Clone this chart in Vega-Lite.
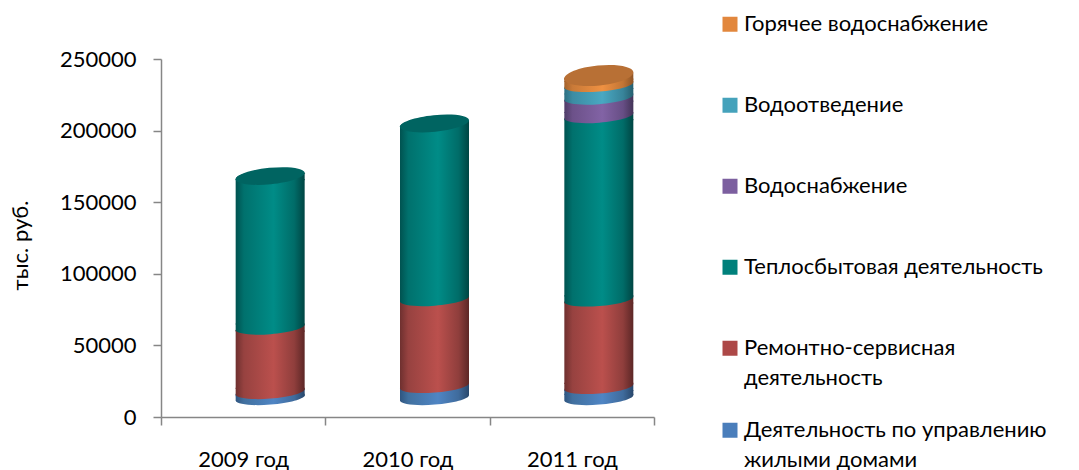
{
"$schema":"https://vega.github.io/schema/vega-lite/v6.json",
"width":493,"height":358,"autosize":"none",
"padding":{"left":161,"top":59,"right":425,"bottom":53},
"background":"white",
"config":{"view":{"stroke":null},"font":"Lato"},
"data":{"values":[
{"year":"2009 год","ord":1,"series":"Деятельность по управлению жилыми домами","value":4200},
{"year":"2009 год","ord":2,"series":"Ремонтно-сервисная деятельность","value":45000},
{"year":"2009 год","ord":3,"series":"Теплосбытовая деятельность","value":105800},
{"year":"2010 год","ord":1,"series":"Деятельность по управлению жилыми домами","value":8400},
{"year":"2010 год","ord":2,"series":"Ремонтно-сервисная деятельность","value":60700},
{"year":"2010 год","ord":3,"series":"Теплосбытовая деятельность","value":122600},
{"year":"2011 год","ord":1,"series":"Деятельность по управлению жилыми домами","value":7700},
{"year":"2011 год","ord":2,"series":"Ремонтно-сервисная деятельность","value":61100},
{"year":"2011 год","ord":3,"series":"Теплосбытовая деятельность","value":128100},
{"year":"2011 год","ord":4,"series":"Водоснабжение","value":12900},
{"year":"2011 год","ord":5,"series":"Водоотведение","value":8800},
{"year":"2011 год","ord":6,"series":"Горячее водоснабжение","value":6600}
]},
"transform":[
{"stack":"value","groupby":["year"],"sort":[{"field":"ord","order":"ascending"}],"as":["y0","y1"]},
{"joinaggregate":[{"op":"max","field":"y1","as":"top"}],"groupby":["year"]}
],
"encoding":{
"x":{"field":"year","type":"nominal","scale":{"paddingInner":0,"paddingOuter":0},
"axis":{"title":null,"labelAngle":0,"tickBand":"extent","domainColor":"#868686","domainWidth":1.5,"tickColor":"#868686","tickWidth":1.5,"tickSize":8,"labelFontSize":22,"labelColor":"#000","labelPadding":24,"grid":false}},
"y":{"field":"y0","type":"quantitative","scale":{"domain":[0,250000]},
"axis":{"title":"тыс. руб.","titleFontSize":22,"titleFontWeight":"normal","titleColor":"#000","titlePadding":27,"titleY":186,"format":"d","values":[0,50000,100000,150000,200000,250000],"domainColor":"#868686","domainWidth":1.5,"tickColor":"#868686","tickWidth":1.5,"tickSize":8,"labelFontSize":22,"labelColor":"#000","labelPadding":17,"grid":false}}
},
"layer":[
{"mark":{"type":"bar","width":67,"xOffset":27,"yOffset":-22,"y2Offset":-16},
"encoding":{"y2":{"field":"y1"},
"color":{"field":"series","type":"nominal","sort":null,
"scale":{"domain":["Горячее водоснабжение","Водоотведение","Водоснабжение","Теплосбытовая деятельность","Ремонтно-сервисная деятельность","Деятельность по управлению жилыми домами"],"range":["#e2873d","#45a2bb","#7c5f9f","#00807b","#ad4847","#4a7ebb"]},
"legend":{"title":null,"orient":"none","legendX":558,"legendY":-75,"symbolType":"square","symbolSize":225,"symbolStrokeWidth":0,"labelFontSize":22,"labelColor":"#000","labelLimit":400,"labelOffset":3,"clipHeight":80.6,"rowPadding":0,
"encode":{"labels":{"update":{"lineHeight":{"value":30}}}},
"labelExpr":"datum.label=='Ремонтно-сервисная деятельность'?['Ремонтно-сервисная','деятельность']:datum.label=='Деятельность по управлению жилыми домами'?['Деятельность по управлению','жилыми домами']:datum.label"}}}},
{"transform":[{"filter":"datum.ord==1"}],"layer":[
{"mark":{"type":"bar","width":69,"xOffset":27,"yOffset":-22,"y2Offset":-16,"fill":{"x1":0,"y1":0,"x2":1,"y2":0,"gradient":"linear","stops":[{"offset":0,"color":"#2f5580"},{"offset":0.12,"color":"#41709f"},{"offset":0.55,"color":"#4f85c4"},{"offset":0.85,"color":"#3f6b9c"},{"offset":1,"color":"#28476b"}]}},"encoding":{"y2":{"field":"y1"}}},
{"mark":{"type":"point","filled":true,"opacity":1,"strokeWidth":0,"size":4761,"xOffset":27,"yOffset":-19,"shape":"M-1,0.08 A1.004,0.2,-4.6,0,1,1,-0.08 L1,0.12 L-1,0.12 Z","fill":{"x1":0,"y1":0,"x2":1,"y2":0,"gradient":"linear","stops":[{"offset":0,"color":"#2f5580"},{"offset":0.12,"color":"#41709f"},{"offset":0.55,"color":"#4f85c4"},{"offset":0.85,"color":"#3f6b9c"},{"offset":1,"color":"#28476b"}]}},"encoding":{"y":{"field":"y1","type":"quantitative"}}},
{"mark":{"type":"point","filled":true,"opacity":1,"strokeWidth":0,"size":4761,"xOffset":27,"yOffset":-19,"shape":"M-1,0.08 A1.004,0.2,-4.6,0,0,1,-0.08 L1,-0.12 L-1,-0.12 Z","fill":{"x1":0,"y1":0,"x2":1,"y2":0,"gradient":"linear","stops":[{"offset":0,"color":"#2f5580"},{"offset":0.12,"color":"#41709f"},{"offset":0.55,"color":"#4f85c4"},{"offset":0.85,"color":"#3f6b9c"},{"offset":1,"color":"#28476b"}]}}}
]},
{"transform":[{"filter":"datum.ord==2"}],"layer":[
{"mark":{"type":"bar","width":69,"xOffset":27,"yOffset":-22,"y2Offset":-16,"fill":{"x1":0,"y1":0,"x2":1,"y2":0,"gradient":"linear","stops":[{"offset":0,"color":"#6e302f"},{"offset":0.12,"color":"#974240"},{"offset":0.55,"color":"#bb504d"},{"offset":0.85,"color":"#8f3e3c"},{"offset":1,"color":"#5c2726"}]}},"encoding":{"y2":{"field":"y1"}}},
{"mark":{"type":"point","filled":true,"opacity":1,"strokeWidth":0,"size":4761,"xOffset":27,"yOffset":-19,"shape":"M-1,0.08 A1.004,0.2,-4.6,0,1,1,-0.08 L1,0.12 L-1,0.12 Z","fill":{"x1":0,"y1":0,"x2":1,"y2":0,"gradient":"linear","stops":[{"offset":0,"color":"#6e302f"},{"offset":0.12,"color":"#974240"},{"offset":0.55,"color":"#bb504d"},{"offset":0.85,"color":"#8f3e3c"},{"offset":1,"color":"#5c2726"}]}},"encoding":{"y":{"field":"y1","type":"quantitative"}}},
{"mark":{"type":"point","filled":true,"opacity":1,"strokeWidth":0,"size":4761,"xOffset":27,"yOffset":-19,"shape":"M-1,0.08 A1.004,0.2,-4.6,0,0,1,-0.08 L1,-0.12 L-1,-0.12 Z","fill":{"x1":0,"y1":0,"x2":1,"y2":0,"gradient":"linear","stops":[{"offset":0,"color":"#6e302f"},{"offset":0.12,"color":"#974240"},{"offset":0.55,"color":"#bb504d"},{"offset":0.85,"color":"#8f3e3c"},{"offset":1,"color":"#5c2726"}]}}}
]},
{"transform":[{"filter":"datum.ord==3"}],"layer":[
{"mark":{"type":"bar","width":69,"xOffset":27,"yOffset":-22,"y2Offset":-16,"fill":{"x1":0,"y1":0,"x2":1,"y2":0,"gradient":"linear","stops":[{"offset":0,"color":"#005250"},{"offset":0.12,"color":"#00716d"},{"offset":0.55,"color":"#008c87"},{"offset":0.85,"color":"#006c68"},{"offset":1,"color":"#004543"}]}},"encoding":{"y2":{"field":"y1"}}},
{"mark":{"type":"point","filled":true,"opacity":1,"strokeWidth":0,"size":4761,"xOffset":27,"yOffset":-19,"shape":"M-1,0.08 A1.004,0.2,-4.6,0,1,1,-0.08 L1,0.12 L-1,0.12 Z","fill":{"x1":0,"y1":0,"x2":1,"y2":0,"gradient":"linear","stops":[{"offset":0,"color":"#005250"},{"offset":0.12,"color":"#00716d"},{"offset":0.55,"color":"#008c87"},{"offset":0.85,"color":"#006c68"},{"offset":1,"color":"#004543"}]}},"encoding":{"y":{"field":"y1","type":"quantitative"}}},
{"mark":{"type":"point","filled":true,"opacity":1,"strokeWidth":0,"size":4761,"xOffset":27,"yOffset":-19,"shape":"M-1,0.08 A1.004,0.2,-4.6,0,0,1,-0.08 L1,-0.12 L-1,-0.12 Z","fill":{"x1":0,"y1":0,"x2":1,"y2":0,"gradient":"linear","stops":[{"offset":0,"color":"#005250"},{"offset":0.12,"color":"#00716d"},{"offset":0.55,"color":"#008c87"},{"offset":0.85,"color":"#006c68"},{"offset":1,"color":"#004543"}]}}}
]},
{"transform":[{"filter":"datum.ord==4"}],"layer":[
{"mark":{"type":"bar","width":69,"xOffset":27,"yOffset":-22,"y2Offset":-16,"fill":{"x1":0,"y1":0,"x2":1,"y2":0,"gradient":"linear","stops":[{"offset":0,"color":"#4f3c68"},{"offset":0.12,"color":"#6c5189"},{"offset":0.55,"color":"#8263a5"},{"offset":0.85,"color":"#674e85"},{"offset":1,"color":"#433357"}]}},"encoding":{"y2":{"field":"y1"}}},
{"mark":{"type":"point","filled":true,"opacity":1,"strokeWidth":0,"size":4761,"xOffset":27,"yOffset":-19,"shape":"M-1,0.08 A1.004,0.2,-4.6,0,1,1,-0.08 L1,0.12 L-1,0.12 Z","fill":{"x1":0,"y1":0,"x2":1,"y2":0,"gradient":"linear","stops":[{"offset":0,"color":"#4f3c68"},{"offset":0.12,"color":"#6c5189"},{"offset":0.55,"color":"#8263a5"},{"offset":0.85,"color":"#674e85"},{"offset":1,"color":"#433357"}]}},"encoding":{"y":{"field":"y1","type":"quantitative"}}},
{"mark":{"type":"point","filled":true,"opacity":1,"strokeWidth":0,"size":4761,"xOffset":27,"yOffset":-19,"shape":"M-1,0.08 A1.004,0.2,-4.6,0,0,1,-0.08 L1,-0.12 L-1,-0.12 Z","fill":{"x1":0,"y1":0,"x2":1,"y2":0,"gradient":"linear","stops":[{"offset":0,"color":"#4f3c68"},{"offset":0.12,"color":"#6c5189"},{"offset":0.55,"color":"#8263a5"},{"offset":0.85,"color":"#674e85"},{"offset":1,"color":"#433357"}]}}}
]},
{"transform":[{"filter":"datum.ord==5"}],"layer":[
{"mark":{"type":"bar","width":69,"xOffset":27,"yOffset":-22,"y2Offset":-16,"fill":{"x1":0,"y1":0,"x2":1,"y2":0,"gradient":"linear","stops":[{"offset":0,"color":"#2d6f81"},{"offset":0.12,"color":"#3c8ca3"},{"offset":0.55,"color":"#49a8c2"},{"offset":0.85,"color":"#38849a"},{"offset":1,"color":"#265f6f"}]}},"encoding":{"y2":{"field":"y1"}}},
{"mark":{"type":"point","filled":true,"opacity":1,"strokeWidth":0,"size":4761,"xOffset":27,"yOffset":-19,"shape":"M-1,0.08 A1.004,0.2,-4.6,0,1,1,-0.08 L1,0.12 L-1,0.12 Z","fill":{"x1":0,"y1":0,"x2":1,"y2":0,"gradient":"linear","stops":[{"offset":0,"color":"#2d6f81"},{"offset":0.12,"color":"#3c8ca3"},{"offset":0.55,"color":"#49a8c2"},{"offset":0.85,"color":"#38849a"},{"offset":1,"color":"#265f6f"}]}},"encoding":{"y":{"field":"y1","type":"quantitative"}}},
{"mark":{"type":"point","filled":true,"opacity":1,"strokeWidth":0,"size":4761,"xOffset":27,"yOffset":-19,"shape":"M-1,0.08 A1.004,0.2,-4.6,0,0,1,-0.08 L1,-0.12 L-1,-0.12 Z","fill":{"x1":0,"y1":0,"x2":1,"y2":0,"gradient":"linear","stops":[{"offset":0,"color":"#2d6f81"},{"offset":0.12,"color":"#3c8ca3"},{"offset":0.55,"color":"#49a8c2"},{"offset":0.85,"color":"#38849a"},{"offset":1,"color":"#265f6f"}]}}}
]},
{"transform":[{"filter":"datum.ord==6"}],"layer":[
{"mark":{"type":"bar","width":69,"xOffset":27,"yOffset":-22,"y2Offset":-16,"fill":{"x1":0,"y1":0,"x2":1,"y2":0,"gradient":"linear","stops":[{"offset":0,"color":"#a4622c"},{"offset":0.12,"color":"#c97a38"},{"offset":0.55,"color":"#ef9142"},{"offset":0.85,"color":"#c27535"},{"offset":1,"color":"#8f5526"}]}},"encoding":{"y2":{"field":"y1"}}},
{"mark":{"type":"point","filled":true,"opacity":1,"strokeWidth":0,"size":4761,"xOffset":27,"yOffset":-19,"shape":"M-1,0.08 A1.004,0.2,-4.6,0,1,1,-0.08 L1,0.12 L-1,0.12 Z","fill":{"x1":0,"y1":0,"x2":1,"y2":0,"gradient":"linear","stops":[{"offset":0,"color":"#a4622c"},{"offset":0.12,"color":"#c97a38"},{"offset":0.55,"color":"#ef9142"},{"offset":0.85,"color":"#c27535"},{"offset":1,"color":"#8f5526"}]}},"encoding":{"y":{"field":"y1","type":"quantitative"}}},
{"mark":{"type":"point","filled":true,"opacity":1,"strokeWidth":0,"size":4761,"xOffset":27,"yOffset":-19,"shape":"M-1,0.08 A1.004,0.2,-4.6,0,0,1,-0.08 L1,-0.12 L-1,-0.12 Z","fill":{"x1":0,"y1":0,"x2":1,"y2":0,"gradient":"linear","stops":[{"offset":0,"color":"#a4622c"},{"offset":0.12,"color":"#c97a38"},{"offset":0.55,"color":"#ef9142"},{"offset":0.85,"color":"#c27535"},{"offset":1,"color":"#8f5526"}]}}}
]},
{"transform":[{"filter":"datum.y1==datum.top && datum.ord==3"}],
"mark":{"type":"point","filled":true,"opacity":1,"strokeWidth":0,"size":4761,"xOffset":27,"yOffset":-19,"shape":"M-1,0.1 A1.005,0.24,-5.7,0,1,1,-0.1 A1.005,0.24,-5.7,0,1,-1,0.1 Z","fill":"#006461"},
"encoding":{"y":{"field":"y1","type":"quantitative"}}},
{"transform":[{"filter":"datum.y1==datum.top && datum.ord==6"}],
"mark":{"type":"point","filled":true,"opacity":1,"strokeWidth":0,"size":4761,"xOffset":27,"yOffset":-19,"shape":"M-1,0.1 A1.005,0.29,-5.7,0,1,1,-0.1 A1.005,0.29,-5.7,0,1,-1,0.1 Z","fill":"#b87035"},
"encoding":{"y":{"field":"y1","type":"quantitative"}}}
]
}
